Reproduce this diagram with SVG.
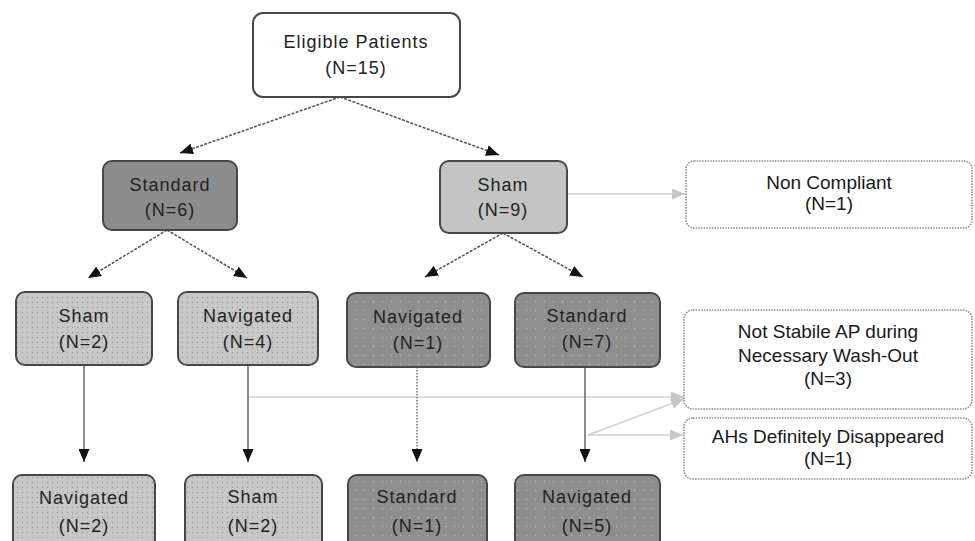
<svg xmlns="http://www.w3.org/2000/svg" width="975" height="541" viewBox="0 0 975 541">
<defs>
<style>
.box{stroke:#474747;stroke-width:2}
.w{fill:#fff}
.lg{fill:url(#dotsL)}
.dg{fill:url(#dotsD)}
.sd{fill:#8c8c8c}
.sh{fill:#c4c4c4}
.side{fill:#fff;stroke:#8a8a8a;stroke-width:1.6;stroke-dasharray:1.5 1.2}
.t{font-family:"Liberation Sans",Arial,sans-serif;font-size:18px;letter-spacing:1px;fill:#222;text-anchor:middle}
.ts{font-family:"Liberation Sans",Arial,sans-serif;font-size:19px;fill:#1a1a1a;text-anchor:middle}
.dash{stroke:#5a5a5a;stroke-width:1.6;stroke-dasharray:3 1.4;fill:none}
.solid{stroke:#707070;stroke-width:1.6;fill:none}
.dot{stroke:#777;stroke-width:1.6;stroke-dasharray:1.5 1.5;fill:none}
.light{stroke:#d2d2d2;stroke-width:1.6;fill:none}
</style>
<pattern id="dotsL" width="5" height="5" patternUnits="userSpaceOnUse">
<rect width="5" height="5" fill="#c8c8c8"/>
<circle cx="2.5" cy="2.5" r="0.7" fill="#9c9c9c"/>
</pattern>
<pattern id="dotsD" width="9" height="9" patternUnits="userSpaceOnUse">
<rect width="9" height="9" fill="#8e8e8e"/>
<circle cx="4.5" cy="4.5" r="0.8" fill="#b8b8b8"/>
</pattern>
<marker id="ah" markerUnits="userSpaceOnUse" markerWidth="13" markerHeight="11" refX="13" refY="5.5" orient="auto">
<path d="M0,0 L13,5.5 L0,11 z" fill="#111"/>
</marker>
<marker id="ahl" markerUnits="userSpaceOnUse" markerWidth="13" markerHeight="11" refX="13" refY="5.5" orient="auto">
<path d="M0,0 L13,5.5 L0,11 z" fill="#c6c6c6"/>
</marker>
</defs>
<rect width="975" height="541" fill="#fff"/>

<g id="connectors">
<line class="dash" x1="340" y1="97" x2="180" y2="153" marker-end="url(#ah)"/>
<line class="dash" x1="340" y1="97" x2="499" y2="155" marker-end="url(#ah)"/>
<line class="dash" x1="167" y1="230" x2="88" y2="278" marker-end="url(#ah)"/>
<line class="dash" x1="167" y1="230" x2="247" y2="278" marker-end="url(#ah)"/>
<line class="dash" x1="503" y1="233" x2="425" y2="277" marker-end="url(#ah)"/>
<line class="dash" x1="503" y1="233" x2="583" y2="277" marker-end="url(#ah)"/>
<line class="light" x1="567" y1="194" x2="685" y2="194" marker-end="url(#ahl)"/>
<line class="light" x1="248" y1="397" x2="684" y2="397" marker-end="url(#ahl)"/>
<line class="light" x1="588" y1="435" x2="684" y2="399" marker-end="url(#ahl)"/>
<line class="light" x1="588" y1="435" x2="683" y2="435" marker-end="url(#ahl)"/>
<line class="solid" x1="84" y1="365" x2="84" y2="462" marker-end="url(#ah)"/>
<line class="solid" x1="248" y1="365" x2="248" y2="462" marker-end="url(#ah)"/>
<line class="dot" x1="417" y1="367" x2="417" y2="462" marker-end="url(#ah)"/>
<line class="solid" x1="585" y1="367" x2="585" y2="462" marker-end="url(#ah)"/>
</g>

<g id="eligible">
<rect class="box w" x="253" y="13" width="207" height="84" rx="10"/>
<text class="t" x="356" y="48">Eligible Patients</text>
<text class="t" x="356" y="74">(N=15)</text>
</g>

<g id="standard6">
<rect class="box sd" x="103" y="161" width="134" height="69" rx="9"/>
<text class="t" x="170" y="191">Standard</text>
<text class="t" x="170" y="216">(N=6)</text>
</g>

<g id="sham9">
<rect class="box sh" x="440" y="161" width="127" height="72" rx="9"/>
<text class="t" x="503" y="191">Sham</text>
<text class="t" x="503" y="216">(N=9)</text>
</g>

<g id="noncompliant">
<rect class="side" x="686" y="161" width="286" height="67" rx="8"/>
<text class="ts" x="829" y="189">Non Compliant</text>
<text class="ts" x="829" y="210">(N=1)</text>
</g>

<g id="sham2">
<rect class="box lg" x="16" y="292" width="136" height="73" rx="9"/>
<text class="t" x="84" y="322">Sham</text>
<text class="t" x="84" y="348">(N=2)</text>
</g>

<g id="navigated4">
<rect class="box lg" x="178" y="292" width="140" height="73" rx="9"/>
<text class="t" x="248" y="322">Navigated</text>
<text class="t" x="248" y="348">(N=4)</text>
</g>

<g id="navigated1">
<rect class="box dg" x="347" y="293" width="143" height="74" rx="9"/>
<text class="t" x="418" y="323">Navigated</text>
<text class="t" x="418" y="349">(N=1)</text>
</g>

<g id="standard7">
<rect class="box dg" x="515" y="293" width="145" height="74" rx="9"/>
<text class="t" x="587" y="322">Standard</text>
<text class="t" x="587" y="348">(N=7)</text>
</g>

<g id="notstabile">
<rect class="side" x="684" y="310" width="288" height="99" rx="9"/>
<text class="ts" x="828" y="338">Not Stabile AP during</text>
<text class="ts" x="828" y="362">Necessary Wash-Out</text>
<text class="ts" x="828" y="385">(N=3)</text>
</g>

<g id="ahs">
<rect class="side" x="684" y="418" width="288" height="61" rx="9"/>
<text class="ts" x="828" y="443">AHs Definitely Disappeared</text>
<text class="ts" x="828" y="465">(N=1)</text>
</g>

<g id="navigated2">
<rect class="box lg" x="13" y="475" width="142" height="80" rx="9"/>
<text class="t" x="84" y="504">Navigated</text>
<text class="t" x="84" y="532">(N=2)</text>
</g>

<g id="sham2b">
<rect class="box lg" x="185" y="475" width="137" height="80" rx="9"/>
<text class="t" x="253" y="503">Sham</text>
<text class="t" x="253" y="532">(N=2)</text>
</g>

<g id="standard1">
<rect class="box dg" x="348" y="475" width="139" height="80" rx="9"/>
<text class="t" x="417" y="503">Standard</text>
<text class="t" x="417" y="532">(N=1)</text>
</g>

<g id="navigated5">
<rect class="box dg" x="515" y="475" width="145" height="80" rx="9"/>
<text class="t" x="587" y="503">Navigated</text>
<text class="t" x="587" y="532">(N=5)</text>
</g>
</svg>
